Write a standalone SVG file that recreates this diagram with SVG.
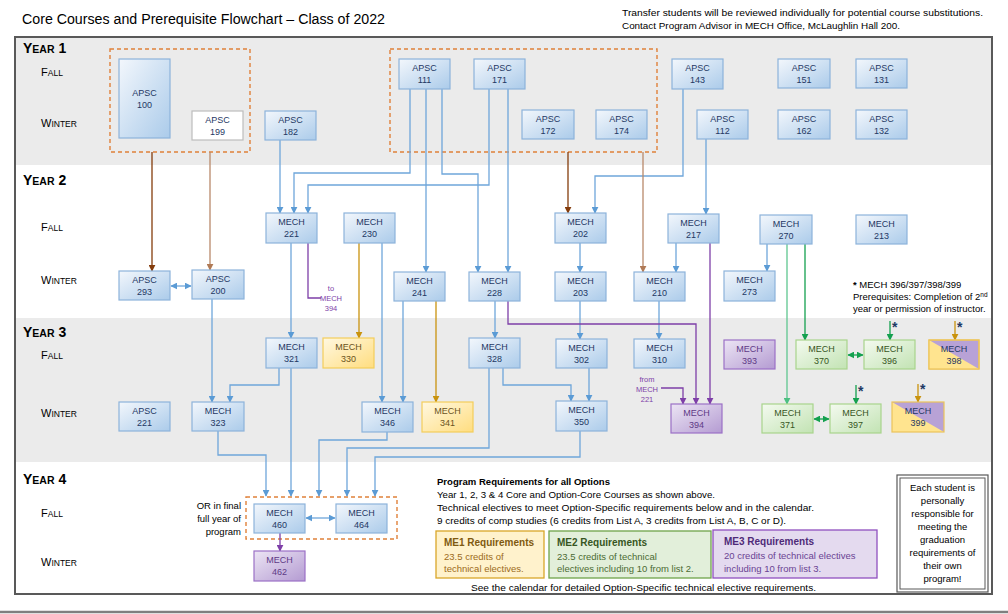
<svg xmlns="http://www.w3.org/2000/svg" width="1008" height="614" viewBox="0 0 1008 614">
<defs>
<linearGradient id="gB" x1="0" y1="0" x2="1" y2="1"><stop offset="0" stop-color="#F3F7FC"/><stop offset="1" stop-color="#ABCBEA"/></linearGradient>
<linearGradient id="gY" x1="0" y1="0" x2="1" y2="1"><stop offset="0" stop-color="#FFF8E1"/><stop offset="1" stop-color="#FFDD7F"/></linearGradient>
<linearGradient id="gP" x1="0" y1="0" x2="1" y2="1"><stop offset="0" stop-color="#ECE5F4"/><stop offset="1" stop-color="#B49BD2"/></linearGradient>
<linearGradient id="gG" x1="0" y1="0" x2="1" y2="1"><stop offset="0" stop-color="#F4FAF0"/><stop offset="1" stop-color="#C2E3B3"/></linearGradient>
<marker id="aB" viewBox="0 0 10 10" refX="9" refY="5" markerWidth="7" markerHeight="7" markerUnits="userSpaceOnUse" orient="auto-start-reverse"><path d="M0,0 L10,5 L0,10 z" fill="#5B9BD5"/></marker>
<marker id="aBr" viewBox="0 0 10 10" refX="9" refY="5" markerWidth="7" markerHeight="7" markerUnits="userSpaceOnUse" orient="auto"><path d="M0,0 L10,5 L0,10 z" fill="#843C0C"/></marker>
<marker id="aLb" viewBox="0 0 10 10" refX="9" refY="5" markerWidth="7" markerHeight="7" markerUnits="userSpaceOnUse" orient="auto"><path d="M0,0 L10,5 L0,10 z" fill="#B07A56"/></marker>
<marker id="aGd" viewBox="0 0 10 10" refX="9" refY="5" markerWidth="7" markerHeight="7" markerUnits="userSpaceOnUse" orient="auto"><path d="M0,0 L10,5 L0,10 z" fill="#C9930E"/></marker>
<marker id="aP" viewBox="0 0 10 10" refX="9" refY="5" markerWidth="7" markerHeight="7" markerUnits="userSpaceOnUse" orient="auto"><path d="M0,0 L10,5 L0,10 z" fill="#7E3FA8"/></marker>
<marker id="aLg" viewBox="0 0 10 10" refX="9" refY="5" markerWidth="7" markerHeight="7" markerUnits="userSpaceOnUse" orient="auto"><path d="M0,0 L10,5 L0,10 z" fill="#4CBF82"/></marker>
<marker id="aG" viewBox="0 0 10 10" refX="9" refY="5" markerWidth="7" markerHeight="7" markerUnits="userSpaceOnUse" orient="auto-start-reverse"><path d="M0,0 L10,5 L0,10 z" fill="#14A04F"/></marker>
<style>
text{font-family:"Liberation Sans",Arial,sans-serif;}
.node rect{stroke-width:1.2;}
.node text{font-size:9px;text-anchor:middle;fill:#1F3864;}
.b{fill:url(#gB);stroke:#8DB3DB;}
.y{fill:url(#gY);stroke:#F4CD5B;}
.p{fill:url(#gP);stroke:#9B71C6;}
.g{fill:url(#gG);stroke:#A8D48C;}
.w{fill:#FFFFFF;stroke:#BDBDBD;}
.ty text{fill:#6B5321;}
.tp text{fill:#5E3A86;}
.tg text{fill:#375623;}
.lbl{font-weight:bold;font-size:14px;fill:#000;}
.sem{font-size:11px;fill:#000;}
.c path{fill:none;stroke-width:1.3;}
.cb{stroke:#6FA6DA;}
.cbr{stroke:#843C0C;}
.clb{stroke:#B8896A;}
.cgd{stroke:#C9930E;}
.cp{stroke:#7E3FA8;}
.clg{stroke:#5FC690;}
.cg{stroke:#14A04F;}
.dash{fill:none;stroke:#E0813A;stroke-width:1.4;stroke-dasharray:4 3;}
.star{font-size:14px;font-weight:bold;fill:#1F3864;}
.small{font-size:7.5px;fill:#7E3FA8;text-anchor:middle;}
.req{font-size:9.5px;fill:#000;}
</style>
</defs>

<rect x="0" y="0" width="1008" height="614" fill="#FFFFFF"/>

<!-- title -->
<text x="22" y="24" font-size="15.5" textLength="363" lengthAdjust="spacingAndGlyphs" fill="#000">Core Courses and Prerequisite Flowchart – Class of 2022</text>
<text x="622" y="16" font-size="9.5" textLength="361" lengthAdjust="spacingAndGlyphs" fill="#000">Transfer students will be reviewed individually for potential course substitutions.</text>
<text x="622" y="29" font-size="9.5" textLength="278" lengthAdjust="spacingAndGlyphs" fill="#000">Contact Program Advisor in MECH Office, McLaughlin Hall 200.</text>

<!-- bands and frame -->
<rect x="16" y="38" width="975" height="127" fill="#EBEBEB"/>
<rect x="16" y="165" width="975" height="153" fill="#FFFFFF"/>
<rect x="16" y="318" width="975" height="144" fill="#EBEBEB"/>
<rect x="16" y="462" width="975" height="131" fill="#FFFFFF"/>
<rect x="15" y="37" width="977" height="557" fill="none" stroke="#595959" stroke-width="2"/>
<line x1="0" y1="612" x2="1008" y2="612" stroke="#7F7F7F" stroke-width="2.5"/>

<!-- year labels -->
<text class="lbl" x="23" y="53">Y<tspan font-size="10.5">EAR</tspan> 1</text>
<text class="sem" x="41" y="76">F<tspan font-size="8.5">ALL</tspan></text>
<text class="sem" x="41" y="127">W<tspan font-size="8.5">INTER</tspan></text>
<text class="lbl" x="23" y="185">Y<tspan font-size="10.5">EAR</tspan> 2</text>
<text class="sem" x="41" y="231">F<tspan font-size="8.5">ALL</tspan></text>
<text class="sem" x="41" y="284">W<tspan font-size="8.5">INTER</tspan></text>
<text class="lbl" x="23" y="337">Y<tspan font-size="10.5">EAR</tspan> 3</text>
<text class="sem" x="41" y="359">F<tspan font-size="8.5">ALL</tspan></text>
<text class="sem" x="41" y="417">W<tspan font-size="8.5">INTER</tspan></text>
<text class="lbl" x="23" y="484">Y<tspan font-size="10.5">EAR</tspan> 4</text>
<text class="sem" x="41" y="517">F<tspan font-size="8.5">ALL</tspan></text>
<text class="sem" x="41" y="566">W<tspan font-size="8.5">INTER</tspan></text>

<!-- dashed groupings -->
<rect class="dash" x="110" y="49" width="140" height="103"/>
<rect class="dash" x="390" y="49" width="267" height="103"/>
<rect class="dash" x="246" y="497" width="151" height="42"/>

<!-- connectors -->
<g id="connectors" class="c">
<path class="cb" d="M280,140 V213" marker-end="url(#aB)"/>
<path class="cb" d="M410,89 V173 H294 V213" marker-end="url(#aB)"/>
<path class="cb" d="M489,89 V185 H308 V213" marker-end="url(#aB)"/>
<path class="cb" d="M426,89 V272" marker-end="url(#aB)"/>
<path class="cb" d="M442,89 V174 H478 V272" marker-end="url(#aB)"/>
<path class="cb" d="M508,89 V272" marker-end="url(#aB)"/>
<path class="cb" d="M683,89 V176 H595 V213" marker-end="url(#aB)"/>
<path class="cb" d="M706,139 V214" marker-end="url(#aB)"/>
<path class="cb" d="M580,243 V272" marker-end="url(#aB)"/>
<path class="cb" d="M676,243 V272" marker-end="url(#aB)"/>
<path class="cb" d="M767,244 V271" marker-end="url(#aB)"/>
<path class="cb" d="M291,243 V338" marker-end="url(#aB)"/>
<path class="cb" d="M212,299 V402" marker-end="url(#aB)"/>
<path class="cb" d="M279,368 V385 H230 V402" marker-end="url(#aB)"/>
<path class="cb" d="M291,368 V496" marker-end="url(#aB)"/>
<path class="cb" d="M218,431 V455 H266 V496" marker-end="url(#aB)"/>
<path class="cb" d="M382,243 V402" marker-end="url(#aB)"/>
<path class="cb" d="M403,301 V402" marker-end="url(#aB)"/>
<path class="cb" d="M387,432 V440 H319 V496" marker-end="url(#aB)"/>
<path class="cb" d="M489,368 V448 H347 V496" marker-end="url(#aB)"/>
<path class="cb" d="M503,368 V385 H571 V401" marker-end="url(#aB)"/>
<path class="cb" d="M589,368 V401" marker-end="url(#aB)"/>
<path class="cb" d="M580,301 V339" marker-end="url(#aB)"/>
<path class="cb" d="M495,301 V338" marker-end="url(#aB)"/>
<path class="cb" d="M659,301 V339" marker-end="url(#aB)"/>
<path class="cb" d="M580,431 V457 H375 V496" marker-end="url(#aB)"/>
<path class="cb" d="M171,286 H191" marker-start="url(#aB)" marker-end="url(#aB)"/>
<path class="cb" d="M306,518 H335" marker-start="url(#aB)" marker-end="url(#aB)"/>
<path class="cbr" d="M152,152 V271" marker-end="url(#aBr)"/>
<path class="cbr" d="M568,152 V213" marker-end="url(#aBr)"/>
<path class="clb" d="M210,152 V270" marker-end="url(#aLb)"/>
<path class="clb" d="M643,152 V272" marker-end="url(#aLb)"/>
<path class="cgd" d="M359,243 V338" marker-end="url(#aGd)"/>
<path class="cgd" d="M436,301 V402" marker-end="url(#aGd)"/>
<path class="cgd" d="M955,321 V340" marker-end="url(#aGd)"/>
<path class="cgd" d="M918,384 V402" marker-end="url(#aGd)"/>
<path class="cp" d="M308,243 V298 H321"/>
<path class="cp" d="M508,301 V324 H696 V404" marker-end="url(#aP)"/>
<path class="cp" d="M710,243 V404" marker-end="url(#aP)"/>
<path class="cp" d="M661,388 H683 V404" marker-end="url(#aP)"/>
<path class="cp" d="M280,533 V551" marker-end="url(#aP)"/>
<path class="clg" d="M787,244 V404" marker-end="url(#aLg)"/>
<path class="cg" d="M805,244 V340" marker-end="url(#aG)"/>
<path class="cg" d="M890,321 V340" marker-end="url(#aG)"/>
<path class="cg" d="M856,385 V404" marker-end="url(#aG)"/>
<path class="cg" d="M848,355 H863" marker-start="url(#aG)" marker-end="url(#aG)"/>
<path class="cg" d="M814,419 H829" marker-start="url(#aG)" marker-end="url(#aG)"/>
</g>

<!-- stars -->
<text class="star" x="892" y="332">*</text>
<text class="star" x="957" y="332">*</text>
<text class="star" x="858" y="396">*</text>
<text class="star" x="920" y="394">*</text>

<!-- small purple notes -->
<text class="small" x="331" y="291">to</text>
<text class="small" x="331" y="301">MECH</text>
<text class="small" x="331" y="311">394</text>
<text class="small" x="647" y="382">from</text>
<text class="small" x="647" y="392">MECH</text>
<text class="small" x="647" y="402">221</text>

<!-- Year 1 nodes -->
<g id="apsc100" class="node"><rect class="b" x="119" y="59" width="51" height="79"/><text x="144.5" y="96">APSC</text><text x="144.5" y="108">100</text></g>
<g id="apsc199" class="node"><rect class="w" x="192" y="111" width="51" height="29"/><text x="217.5" y="123">APSC</text><text x="217.5" y="135">199</text></g>
<g id="apsc182" class="node"><rect class="b" x="265" y="111" width="51" height="29"/><text x="290.5" y="123">APSC</text><text x="290.5" y="135">182</text></g>
<g id="apsc111" class="node"><rect class="b" x="399" y="59" width="51" height="30"/><text x="424.5" y="71">APSC</text><text x="424.5" y="83">111</text></g>
<g id="apsc171" class="node"><rect class="b" x="474" y="59" width="51" height="30"/><text x="499.5" y="71">APSC</text><text x="499.5" y="83">171</text></g>
<g id="apsc172" class="node"><rect class="b" x="522" y="110" width="52" height="29"/><text x="548" y="122">APSC</text><text x="548" y="134">172</text></g>
<g id="apsc174" class="node"><rect class="b" x="596" y="110" width="51" height="29"/><text x="621.5" y="122">APSC</text><text x="621.5" y="134">174</text></g>
<g id="apsc143" class="node"><rect class="b" x="672" y="59" width="51" height="30"/><text x="697.5" y="71">APSC</text><text x="697.5" y="83">143</text></g>
<g id="apsc112" class="node"><rect class="b" x="697" y="110" width="51" height="29"/><text x="722.5" y="122">APSC</text><text x="722.5" y="134">112</text></g>
<g id="apsc151" class="node"><rect class="b" x="778" y="59" width="52" height="29"/><text x="804" y="71">APSC</text><text x="804" y="83">151</text></g>
<g id="apsc131" class="node"><rect class="b" x="856" y="59" width="51" height="29"/><text x="881.5" y="71">APSC</text><text x="881.5" y="83">131</text></g>
<g id="apsc162" class="node"><rect class="b" x="778" y="110" width="52" height="29"/><text x="804" y="122">APSC</text><text x="804" y="134">162</text></g>
<g id="apsc132" class="node"><rect class="b" x="856" y="110" width="51" height="29"/><text x="881.5" y="122">APSC</text><text x="881.5" y="134">132</text></g>

<!-- Year 2 nodes -->
<g id="mech221" class="node"><rect class="b" x="266" y="213" width="51" height="30"/><text x="291.5" y="225">MECH</text><text x="291.5" y="237">221</text></g>
<g id="apsc293" class="node"><rect class="b" x="119" y="271" width="51" height="29"/><text x="144.5" y="283">APSC</text><text x="144.5" y="295">293</text></g>
<g id="apsc200" class="node"><rect class="b" x="192" y="270" width="52" height="29"/><text x="218" y="282">APSC</text><text x="218" y="294">200</text></g>
<g id="mech230" class="node"><rect class="b" x="344" y="213" width="51" height="30"/><text x="369.5" y="225">MECH</text><text x="369.5" y="237">230</text></g>
<g id="mech241" class="node"><rect class="b" x="394" y="272" width="51" height="29"/><text x="419.5" y="284">MECH</text><text x="419.5" y="296">241</text></g>
<g id="mech228" class="node"><rect class="b" x="469" y="272" width="51" height="29"/><text x="494.5" y="284">MECH</text><text x="494.5" y="296">228</text></g>
<g id="mech202" class="node"><rect class="b" x="555" y="213" width="51" height="30"/><text x="580.5" y="225">MECH</text><text x="580.5" y="237">202</text></g>
<g id="mech203" class="node"><rect class="b" x="555" y="272" width="51" height="29"/><text x="580.5" y="284">MECH</text><text x="580.5" y="296">203</text></g>
<g id="mech210" class="node"><rect class="b" x="634" y="272" width="51" height="29"/><text x="659.5" y="284">MECH</text><text x="659.5" y="296">210</text></g>
<g id="mech217" class="node"><rect class="b" x="668" y="214" width="51" height="29"/><text x="693.5" y="226">MECH</text><text x="693.5" y="238">217</text></g>
<g id="mech270" class="node"><rect class="b" x="760" y="215" width="52" height="29"/><text x="786" y="227">MECH</text><text x="786" y="239">270</text></g>
<g id="mech213" class="node"><rect class="b" x="856" y="215" width="51" height="29"/><text x="881.5" y="227">MECH</text><text x="881.5" y="239">213</text></g>
<g id="mech273" class="node"><rect class="b" x="724" y="271" width="51" height="30"/><text x="749.5" y="283">MECH</text><text x="749.5" y="295">273</text></g>

<!-- prerequisite note -->
<g id="note" font-size="9.5" fill="#000">
<text x="853" y="288"><tspan font-weight="bold">*</tspan> MECH 396/397/398/399</text>
<text x="853" y="300">Prerequisites:  Completion of 2<tspan font-size="6.5" dy="-3.5">nd</tspan></text>
<text x="853" y="312">year or permission of instructor.</text>
</g>

<!-- Year 3 nodes -->
<g id="mech321" class="node"><rect class="b" x="266" y="338" width="51" height="30"/><text x="291.5" y="350">MECH</text><text x="291.5" y="362">321</text></g>
<g id="mech330" class="node ty"><rect class="y" x="323" y="338" width="51" height="30"/><text x="348.5" y="350">MECH</text><text x="348.5" y="362">330</text></g>
<g id="apsc221" class="node"><rect class="b" x="119" y="402" width="51" height="29"/><text x="144.5" y="414">APSC</text><text x="144.5" y="426">221</text></g>
<g id="mech323" class="node"><rect class="b" x="192" y="402" width="52" height="29"/><text x="218" y="414">MECH</text><text x="218" y="426">323</text></g>
<g id="mech346" class="node"><rect class="b" x="362" y="402" width="51" height="30"/><text x="387.5" y="414">MECH</text><text x="387.5" y="426">346</text></g>
<g id="mech341" class="node ty"><rect class="y" x="422" y="402" width="51" height="30"/><text x="447.5" y="414">MECH</text><text x="447.5" y="426">341</text></g>
<g id="mech328" class="node"><rect class="b" x="469" y="338" width="51" height="30"/><text x="494.5" y="350">MECH</text><text x="494.5" y="362">328</text></g>
<g id="mech302" class="node"><rect class="b" x="556" y="339" width="51" height="29"/><text x="581.5" y="351">MECH</text><text x="581.5" y="363">302</text></g>
<g id="mech310" class="node"><rect class="b" x="634" y="339" width="51" height="29"/><text x="659.5" y="351">MECH</text><text x="659.5" y="363">310</text></g>
<g id="mech350" class="node"><rect class="b" x="556" y="401" width="51" height="30"/><text x="581.5" y="413">MECH</text><text x="581.5" y="425">350</text></g>
<g id="mech394" class="node tp"><rect class="p" x="671" y="404" width="51" height="29"/><text x="696.5" y="416">MECH</text><text x="696.5" y="428">394</text></g>
<g id="mech393" class="node tp"><rect class="p" x="724" y="340" width="51" height="29"/><text x="749.5" y="352">MECH</text><text x="749.5" y="364">393</text></g>
<g id="mech370" class="node tg"><rect class="g" x="796" y="340" width="51" height="29"/><text x="821.5" y="352">MECH</text><text x="821.5" y="364">370</text></g>
<g id="mech396" class="node tg"><rect class="g" x="864" y="340" width="51" height="29"/><text x="889.5" y="352">MECH</text><text x="889.5" y="364">396</text></g>
<g id="mech398" class="node"><rect x="929" y="340" width="50" height="29" fill="#B8A2D6" stroke="#F2C85A"/><polygon points="929,340 929,369 979,369" fill="#FFE48F"/><rect x="929" y="340" width="50" height="29" fill="none" stroke="#EBC35A" stroke-width="1.2"/><text x="954" y="352">MECH</text><text x="954" y="364">398</text></g>
<g id="mech371" class="node tg"><rect class="g" x="762" y="404" width="51" height="29"/><text x="787.5" y="416">MECH</text><text x="787.5" y="428">371</text></g>
<g id="mech397" class="node tg"><rect class="g" x="830" y="404" width="51" height="29"/><text x="855.5" y="416">MECH</text><text x="855.5" y="428">397</text></g>
<g id="mech399" class="node"><rect x="892" y="402" width="52" height="30" fill="#B8A2D6"/><polygon points="892,402 892,432 944,432" fill="#FFE48F"/><rect x="892" y="402" width="52" height="30" fill="none" stroke="#EBC35A" stroke-width="1.2"/><text x="918" y="414">MECH</text><text x="918" y="426">399</text></g>

<!-- Year 4 nodes -->
<g id="mech460" class="node"><rect class="b" x="254" y="504" width="51" height="29"/><text x="279.5" y="516">MECH</text><text x="279.5" y="528">460</text></g>
<g id="mech464" class="node"><rect class="b" x="336" y="504" width="51" height="29"/><text x="361.5" y="516">MECH</text><text x="361.5" y="528">464</text></g>
<g id="mech462" class="node tp"><rect class="p" x="254" y="551" width="51" height="30"/><text x="279.5" y="563">MECH</text><text x="279.5" y="575">462</text></g>

<g id="ornote" font-size="9.5" fill="#000" text-anchor="end">
<text x="241" y="509">OR in final</text>
<text x="241" y="522">full year of</text>
<text x="241" y="535">program</text>
</g>

<!-- program requirements -->
<g id="requirements" class="req">
<text class="req" x="437" y="485" font-weight="bold" textLength="173" lengthAdjust="spacingAndGlyphs">Program Requirements for all Options</text>
<text class="req" x="437" y="498" textLength="278" lengthAdjust="spacingAndGlyphs">Year 1, 2, 3 &amp; 4 Core and Option-Core Courses as shown above.</text>
<text class="req" x="437" y="511" textLength="377" lengthAdjust="spacingAndGlyphs">Technical electives to meet  Option-Specific requirements below and in the calendar.</text>
<text class="req" x="437" y="524" textLength="349" lengthAdjust="spacingAndGlyphs">9 credits of comp studies (6 credits from List A, 3 credits from List A, B, C or D).</text>
<text class="req" x="471" y="591" textLength="345" lengthAdjust="spacingAndGlyphs">See the calendar for detailed Option-Specific technical elective requirements.</text>
</g>
<g id="me1"><rect x="436" y="531" width="108" height="47" fill="#FFF2CC" stroke="#D9A62A" stroke-width="1.3"/>
<text x="444" y="546" font-size="10" font-weight="bold" fill="#7F5A10">ME1 Requirements</text>
<text x="444" y="560" font-size="9.5" fill="#9C6B1A">23.5 credits of</text>
<text x="444" y="572" font-size="9.5" fill="#9C6B1A">technical electives.</text></g>
<g id="me2"><rect x="549" y="531" width="162" height="47" fill="#E2EFDA" stroke="#6FA34A" stroke-width="1.3"/>
<text x="557" y="546" font-size="10" font-weight="bold" fill="#375623">ME2 Requirements</text>
<text x="557" y="560" font-size="9.5" fill="#4B6B33">23.5 credits of technical</text>
<text x="557" y="572" font-size="9.5" fill="#4B6B33">electives including 10 from list 2.</text></g>
<g id="me3"><rect x="713" y="530" width="164" height="48" fill="#E4DAEF" stroke="#9050BF" stroke-width="1.3"/>
<text x="724" y="545" font-size="10" font-weight="bold" fill="#4F2A78">ME3 Requirements</text>
<text x="724" y="559" font-size="9.5" fill="#6A4393">20 credits of technical electives</text>
<text x="724" y="572" font-size="9.5" fill="#6A4393">including 10 from list 3.</text></g>

<g id="responsibility">
<rect x="897" y="475" width="91" height="117" fill="#FFFFFF" stroke="#595959" stroke-width="1.2"/>
<rect x="900" y="478" width="85" height="111" fill="none" stroke="#595959" stroke-width="1"/>
<g font-size="9.5" fill="#000" text-anchor="middle">
<text x="942.5" y="491">Each student is</text>
<text x="942.5" y="504">personally</text>
<text x="942.5" y="517">responsible for</text>
<text x="942.5" y="530">meeting the</text>
<text x="942.5" y="543">graduation</text>
<text x="942.5" y="556">requirements of</text>
<text x="942.5" y="569">their own</text>
<text x="942.5" y="582">program!</text>
</g>
</g>
</svg>
